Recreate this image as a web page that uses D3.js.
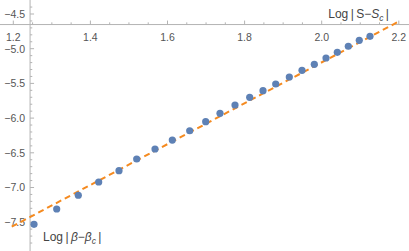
<!DOCTYPE html>
<html><head><meta charset="utf-8">
<script src="https://cdn.jsdelivr.net/npm/d3@7"></script>
<style>body{margin:0;background:#fff}svg{display:block}</style>
</head><body>
<svg id="c" width="409" height="251"></svg>
<script>
const xVals = [1.2537,1.3126,1.3686,1.4215,1.4742,1.5201,1.5676,1.6125,1.6576,1.6991,1.7362,1.7751,1.8132,1.8477,1.8807,1.9160,1.9489,1.9808,2.0112,2.0405,2.0690,2.0975,2.1253];
const yVals = [-7.530,-7.310,-7.112,-6.921,-6.758,-6.589,-6.445,-6.316,-6.182,-6.052,-5.931,-5.811,-5.700,-5.605,-5.509,-5.408,-5.311,-5.225,-5.134,-5.052,-4.965,-4.879,-4.821];
const fitSlope = 2.945;
const fitIntercept = -11.087;
const fitDomain = [1.196, 2.2];
const xTicks = [1.2,1.4,1.6,1.8,2.0,2.2];
const yTicks = [-4.5,-5.0,-5.5,-6.0,-6.5,-7.0,-7.5];
const axisOrigin = [1.2435, -4.652];
// label parts: [text, italic]
const xLabelParts = [["Log\u2009|\u2009S−", false], ["S", true]];
const yLabelParts = [["Log\u2009|\u2009", false], ["β", true], ["−", false], ["β", true]];

const svg = d3.select("#c");
const x = d3.scaleLinear().domain([1.2, 2.2]).range([13.3, 398.8]);
const y = d3.scaleLinear().domain([-4.5, -7.5]).range([14, 222.2]);
const axisCol = "#b3b3b3", textCol = "#555";

const xMinor = d3.range(1.15, 2.2501, 0.05).filter(v => x(v) >= 0 && x(v) <= 409);
const yMinor = d3.range(-4.4, -7.9, -0.1).filter(v => y(v) >= 0 && y(v) <= 251);

const ax = svg.append("g");
ax.append("line").attr("x1", 0).attr("x2", 409).attr("y1", y(axisOrigin[1])).attr("y2", y(axisOrigin[1])).attr("stroke", axisCol).attr("stroke-width", 1);
ax.append("line").attr("y1", 0).attr("y2", 251).attr("x1", x(axisOrigin[0])).attr("x2", x(axisOrigin[0])).attr("stroke", axisCol).attr("stroke-width", 1);

const isMajorX = v => xTicks.some(t => Math.abs(t - v) < 1e-6);
const isMajorY = v => yTicks.some(t => Math.abs(t - v) < 1e-6);
const y0 = y(axisOrigin[1]), x0 = x(axisOrigin[0]);
ax.selectAll(".xt").data(xMinor).join("line")
  .attr("x1", d => x(d)).attr("x2", d => x(d))
  .attr("y1", y0).attr("y2", d => y0 - (isMajorX(d) ? 4 : 2.2))
  .attr("stroke", axisCol).attr("stroke-width", 1);
ax.selectAll(".yt").data(yMinor).join("line")
  .attr("y1", d => y(d)).attr("y2", d => y(d))
  .attr("x1", x0).attr("x2", d => x0 + (isMajorY(d) ? 4 : 2.2))
  .attr("stroke", axisCol).attr("stroke-width", 1);

const fmt = d3.format(".1f");
ax.selectAll(".xl").data(xTicks).join("text")
  .attr("x", d => x(d)).attr("y", y0 + 16)
  .attr("text-anchor", "middle").attr("font-family", "Liberation Sans, Arial, sans-serif")
  .attr("font-size", 10.5).attr("fill", textCol).text(d => fmt(d));
ax.selectAll(".yl").data(yTicks).join("text")
  .attr("x", x0 - 5).attr("y", d => y(d) + 3.8)
  .attr("text-anchor", "end").attr("font-family", "Liberation Sans, Arial, sans-serif")
  .attr("font-size", 10.5).attr("fill", textCol).text(d => fmt(d).replace("-", "−"));

svg.append("line")
  .attr("x1", x(fitDomain[0])).attr("y1", y(fitSlope * fitDomain[0] + fitIntercept))
  .attr("x2", x(fitDomain[1])).attr("y2", y(fitSlope * fitDomain[1] + fitIntercept))
  .attr("stroke", "#f58a1f").attr("stroke-width", 2).attr("stroke-dasharray", "6,4");

svg.selectAll(".pt").data(xVals.map((v, i) => [v, yVals[i]])).join("circle")
  .attr("cx", d => x(d[0])).attr("cy", d => y(d[1])).attr("r", 3.6)
  .attr("fill", "#5e81b5");

function label(parts, xx, yy, anchor) {
  const t = svg.append("text").attr("x", xx).attr("y", yy).attr("text-anchor", anchor)
    .attr("font-family", "Liberation Sans, Arial, sans-serif").attr("font-size", 12).attr("fill", "#444");
  parts.forEach(([s, it]) => t.append("tspan").attr("font-style", it ? "italic" : "normal").text(s));
  t.append("tspan").attr("font-size", 8.5).attr("font-style", "italic").attr("dy", 3).text("c");
  t.append("tspan").attr("dy", -3).text("\u2009|");
}
label(xLabelParts, 389, 18, "end");
label(yLabelParts, 43, 241, "start");
</script>
</body></html>
